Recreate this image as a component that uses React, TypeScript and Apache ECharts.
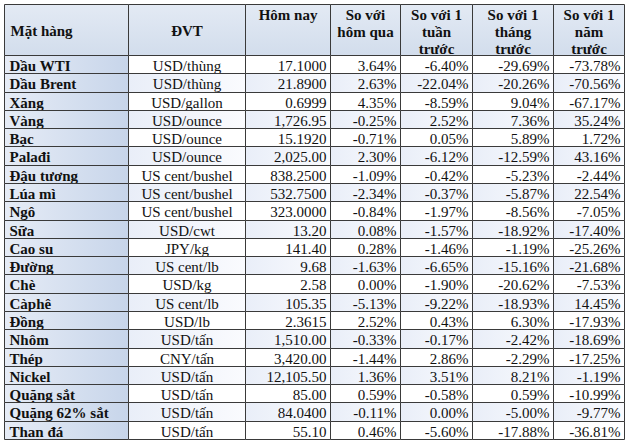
import React, { useEffect, useRef } from "react";
import * as echarts from "echarts";

const headers = [
  "Mặt hàng",
  "ĐVT",
  "Hôm nay",
  "So với\nhôm qua",
  "So với 1\ntuần\ntrước",
  "So với 1\ntháng\ntrước",
  "So với 1\nnăm\ntrước",
];

const items = [
  "Dầu WTI", "Dầu Brent", "Xăng", "Vàng", "Bạc", "Palađi", "Đậu tương", "Lúa mì", "Ngô", "Sữa",
  "Cao su", "Đường", "Chè", "Càphê", "Đồng", "Nhôm", "Thép", "Nickel", "Quặng sắt", "Quặng 62% sắt", "Than đá",
];

const units = [
  "USD/thùng", "USD/thùng", "USD/gallon", "USD/ounce", "USD/ounce", "USD/ounce", "US cent/bushel",
  "US cent/bushel", "US cent/bushel", "USD/cwt", "JPY/kg", "US cent/lb", "USD/kg", "US cent/lb",
  "USD/lb", "USD/tấn", "CNY/tấn", "USD/tấn", "USD/tấn", "USD/tấn", "USD/tấn",
];

const today = [
  "17.1000", "21.8900", "0.6999", "1,726.95", "15.1920", "2,025.00", "838.2500", "532.7500",
  "323.0000", "13.20", "141.40", "9.68", "2.58", "105.35", "2.3615", "1,510.00", "3,420.00",
  "12,105.50", "85.00", "84.0400", "55.10",
];

const dayChange = [3.64, 2.63, 4.35, -0.25, -0.71, 2.3, -1.09, -2.34, -0.84, 0.08, 0.28, -1.63, 0.0, -5.13, 2.52, -0.33, -1.44, 1.36, 0.59, -0.11, 0.46];
const weekChange = [-6.4, -22.04, -8.59, 2.52, 0.05, -6.12, -0.42, -0.37, -1.97, -1.57, -1.46, -6.65, -1.9, -9.22, 0.43, -0.17, 2.86, 3.51, -0.58, 0.0, -5.6];
const monthChange = [-29.69, -20.26, 9.04, 7.36, 5.89, -12.59, -5.23, -5.87, -8.56, -18.92, -1.19, -15.16, -20.62, -18.93, 6.3, -2.42, -2.29, 8.21, 0.59, -5.0, -17.88];
const yearChange = [-73.78, -70.56, -67.17, 35.24, 1.72, 43.16, -2.44, 22.54, -7.05, -17.4, -25.26, -21.68, -7.53, 14.45, -17.93, -18.69, -17.25, -1.19, -10.99, -9.77, -36.81];

// layout constants (pixel units of the hidden axes)
const COL_EDGES = [0, 124, 241, 326, 396, 468, 549, 620];
const HEADER_H = 51;
const TOTAL_H = 435;
const ROW_H = (TOTAL_H - HEADER_H) / items.length;
const FONT = '"Liberation Serif", "Times New Roman", serif';

function cellText(c: number, r: number): string {
  if (r === 0) return headers[c];
  const i = r - 1;
  const pct = (v: number) => v.toFixed(2) + "%";
  switch (c) {
    case 0: return items[i];
    case 1: return units[i];
    case 2: return today[i];
    case 3: return pct(dayChange[i]);
    case 4: return pct(weekChange[i]);
    case 5: return pct(monthChange[i]);
    default: return pct(yearChange[i]);
  }
}

export default function App() {
  const ref = useRef<HTMLDivElement>(null);
  useEffect(() => {
    document.body.style.margin = "0";
    if (!ref.current) return;
    const chart = echarts.init(ref.current, null, { renderer: "svg" });
    const data: number[][] = [];
    for (let r = 0; r <= items.length; r++) {
      for (let c = 0; c < headers.length; c++) data.push([c, r]);
    }
    const option: any = {
      animation: false,
      backgroundColor: "#ffffff",
      grid: { left: 4, top: 4, width: 620, height: 435 },
      xAxis: { type: "value", min: 0, max: 620, show: false },
      yAxis: { type: "value", min: 0, max: TOTAL_H, inverse: true, show: false },
      series: [
        {
          type: "custom",
          coordinateSystem: "cartesian2d",
          clip: false,
          data,
          renderItem: (params: any, api: any) => {
            const c = api.value(0);
            const r = api.value(1);
            const top = r === 0 ? 0 : HEADER_H + (r - 1) * ROW_H;
            const bottom = r === 0 ? HEADER_H : HEADER_H + r * ROW_H;
            const p0 = api.coord([COL_EDGES[c], top]);
            const p1 = api.coord([COL_EDGES[c + 1], bottom]);
            const x0 = Math.round(p0[0]) + 0.5;
            const y0 = Math.round(p0[1]) + 0.5;
            const x1 = Math.round(p1[0]) + 0.5;
            const y1 = Math.round(p1[1]) + 0.5;
            const w = x1 - x0;
            const h = y1 - y0;
            let fill: any = "#ffffff";
            if (r === 0) {
              fill = new echarts.graphic.LinearGradient(0, 0, 0, 1, [
                { offset: 0, color: "#e3eaf4" },
                { offset: 1, color: "#d2ddec" },
              ]);
            } else if (c === 0) {
              fill = new echarts.graphic.LinearGradient(0, 0, 1, 0, [
                { offset: 0, color: "#e6ecf6" },
                { offset: 1, color: "#c7d5ea" },
              ]);
            } else if (r % 2 === 0) {
              fill = new echarts.graphic.LinearGradient(0, 0, 1, 0, [
                { offset: 0, color: "#e9eef8" },
                { offset: 1, color: "#fafbfe" },
              ]);
            }
            const text = cellText(c, r);
            let tx = x0 + w / 2;
            let ty = y0 + h / 2;
            let align = "center";
            let vAlign = "middle";
            let bold = false;
            if (r === 0) {
              bold = true;
              if (c === 0) {
                tx = x0 + 6;
                align = "left";
              } else if (c >= 2) {
                ty = y0 + 2;
                vAlign = "top";
              }
            } else if (c === 0) {
              bold = true;
              tx = x0 + 5;
              align = "left";
            } else if (c >= 2) {
              tx = x1 - 4;
              align = "right";
            }
            return {
              type: "group",
              children: [
                {
                  type: "rect",
                  shape: { x: x0, y: y0, width: w, height: h },
                  style: { fill, stroke: "#3a3a3a", lineWidth: 1 },
                },
                {
                  type: "text",
                  x: tx,
                  y: ty + (vAlign === "middle" ? 1 : 0),
                  style: {
                    text,
                    align,
                    verticalAlign: vAlign,
                    fontFamily: FONT,
                    fontSize: 15,
                    fontWeight: bold ? "bold" : "normal",
                    lineHeight: 17,
                    fill: "#111111",
                  },
                },
              ],
            };
          },
        },
      ],
    };
    chart.setOption(option);
    return () => chart.dispose();
  }, []);
  return <div ref={ref} style={{ width: 630, height: 446 }} />;
}
